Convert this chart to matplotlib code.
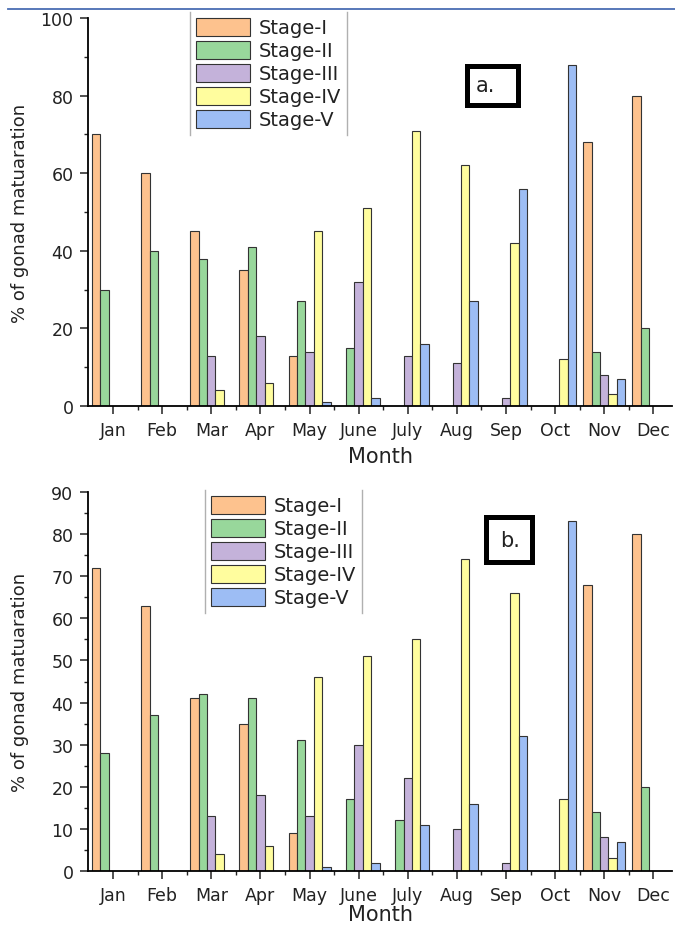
import numpy as np
import matplotlib
matplotlib.use('Agg')
from matplotlib import pyplot as plt
from matplotlib.lines import Line2D
from matplotlib.patches import Rectangle

# months and maturity stages
months = ['Jan', 'Feb', 'Mar', 'Apr', 'May', 'June', 'July', 'Aug', 'Sep', 'Oct', 'Nov', 'Dec']
stages = ['Stage-I', 'Stage-II', 'Stage-III', 'Stage-IV', 'Stage-V']
colors = ['#fdc28e', '#98d79b', '#c4b2da', '#fffd9e', '#9dbdf4']

# panel a.
a_stage1 = [70, 60, 45, 35, 13, 0, 0, 0, 0, 0, 68, 80]
a_stage2 = [30, 40, 38, 41, 27, 15, 0, 0, 0, 0, 14, 20]
a_stage3 = [0, 0, 13, 18, 14, 32, 13, 11, 2, 0, 8, 0]
a_stage4 = [0, 0, 4, 6, 45, 51, 71, 62, 42, 12, 3, 0]
a_stage5 = [0, 0, 0, 0, 1, 2, 16, 27, 56, 88, 7, 0]

# panel b.
b_stage1 = [72, 63, 41, 35, 9, 0, 0, 0, 0, 0, 68, 80]
b_stage2 = [28, 37, 42, 41, 31, 17, 12, 0, 0, 0, 14, 20]
b_stage3 = [0, 0, 13, 18, 13, 30, 22, 10, 2, 0, 8, 0]
b_stage4 = [0, 0, 4, 6, 46, 51, 55, 74, 66, 17, 3, 0]
b_stage5 = [0, 0, 0, 0, 1, 2, 11, 16, 32, 83, 7, 0]

W, H = 675, 928
fig = plt.figure(figsize=(W / 100, H / 100), dpi=100)

def fx(px):
    return px / W

def fy(py):
    return 1 - py / H

def panel(top, bottom, series, ymax, major, minor, leg_xy, month_off):
    ax = fig.add_axes([fx(88), fy(bottom), fx(672) - fx(88), fy(top) - fy(bottom)])
    x = np.arange(len(months))
    w = 0.171
    for i, vals in enumerate(series):
        ax.bar(x + (i - 2) * w, vals, width=w, color=colors[i], edgecolor='#333333',
               linewidth=0.8, label=stages[i], zorder=2)
    ax.set_xlim(-0.51, 11.38)
    ax.set_ylim(0, ymax)
    ax.set_xticks(x)
    ax.set_xticklabels(months)
    ax.set_xticks(np.arange(0.5, 11, 1), minor=True)
    ax.set_yticks(np.arange(0, ymax + 1, major))
    ax.set_yticks(np.arange(0, ymax + 1, minor), minor=True)
    for s in ['top', 'right']:
        ax.spines[s].set_visible(False)
    for s in ['left', 'bottom']:
        ax.spines[s].set_linewidth(1.3)
    ax.tick_params(which='major', length=5.5, width=1.1, labelsize=12.5, pad=5, colors='#222222')
    ax.tick_params(which='minor', length=3, width=1.0, colors='#222222')
    ax.set_xlabel('Month', fontsize=15, color='#222222')
    ax.xaxis.set_label_coords(0.5, -month_off / (bottom - top))
    ax.xaxis.label.set_va('center')
    ax.set_ylabel('% of gonad matuaration', fontsize=13, color='#222222')
    ax.yaxis.set_label_coords(-68 / 584, 0.5)
    ax.yaxis.label.set_va('center')
    leg = ax.legend(loc='upper left', bbox_to_anchor=(fx(leg_xy[0]), fy(leg_xy[1])),
                    bbox_transform=fig.transFigure, frameon=False, fontsize=14,
                    handlelength=2.8, handleheight=1.05, labelspacing=0.17,
                    handletextpad=0.45, borderpad=0.3, borderaxespad=0)
    for t in leg.get_texts():
        t.set_color('#222222')
    return ax, leg

ax_a, leg_a = panel(19, 407, [a_stage1, a_stage2, a_stage3, a_stage4, a_stage5],
                    100, 20, 10, (190, 13), 50)
ax_b, leg_b = panel(493, 872, [b_stage1, b_stage2, b_stage3, b_stage4, b_stage5],
                    90, 10, 5, (205, 491), 43)

# legend side lines
fig.canvas.draw()
for leg in [leg_a, leg_b]:
    bb = leg.get_window_extent()
    for xx in [bb.x0, bb.x1]:
        fig.add_artist(Line2D([xx / W, xx / W], [bb.y0 / H, bb.y1 / H],
                              transform=fig.transFigure, color='#b0b0b0', lw=1.0))

# panel tags
for (x0, y0, x1, y1), tag, tx, ty in [((467.5, 66.5, 517.5, 105.5), 'a.', 476, 86),
                                     ((485.5, 517.5, 531.5, 562.5), 'b.', 500, 541)]:
    fig.add_artist(Rectangle((fx(x0), fy(y1)), fx(x1) - fx(x0), fy(y0) - fy(y1),
                             transform=fig.transFigure, fill=False, ec='black', lw=3.6))
    fig.text(fx(tx), fy(ty), tag, fontsize=15, ha='left', va='center', color='#222222')

# blue rule at the top
fig.add_artist(Line2D([fx(8), 1], [fy(9.5), fy(9.5)], transform=fig.transFigure,
                      color='#4a6db3', lw=1.3))

fig.savefig('out.png', dpi=100)
